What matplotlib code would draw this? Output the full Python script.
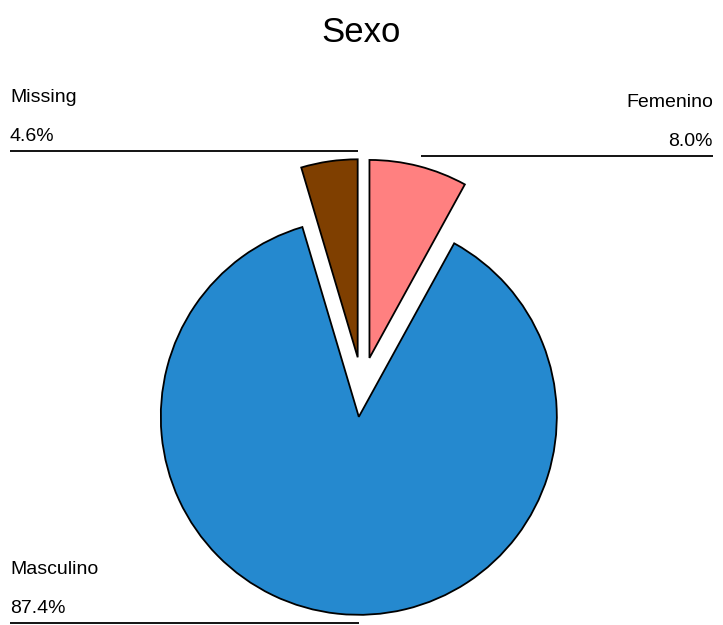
import numpy as np
import matplotlib.pyplot as plt

plt.rcParams['font.family'] = ['Liberation Sans', 'DejaVu Sans']

# data
categorias = ['Femenino', 'Masculino', 'Missing']
porcentajes = [8.0, 87.4, 4.6]
colores = ['#ff8080', '#2589cf', '#7f3f00']

W, H = 723, 625
fig = plt.figure(figsize=(W / 100, H / 100), dpi=100)
ax = fig.add_axes([0, 0, 1, 1])

centro = (362, 238)
radio = 198
wedges, _ = ax.pie(porcentajes, colors=colores, startangle=90, counterclock=False,
                   explode=[30] * 3, radius=radio, center=centro,
                   wedgeprops=dict(edgecolor='black', linewidth=1.3))
ax.set_xlim(0, W)
ax.set_ylim(0, H)
ax.set_aspect('equal')
ax.axis('off')

fig.text(0.5, 1 - 32 / H, 'Sexo', ha='center', va='center', fontsize=25)

# labels: (x of text, y of line in px from top, alignment, angle of rim point)
etiquetas = {
    'Missing': (10, 151, 'left', 90),
    'Femenino': (713, 156, 'right', 75),
    'Masculino': (10, 623, 'left', 270),
}
for w, cat, pct in zip(wedges, categorias, porcentajes):
    tx, ly, ha, ang = etiquetas[cat]
    cx, cy = w.center
    rx = cx + w.r * np.cos(np.radians(ang))
    yl = H - ly
    ax.plot([tx, rx], [yl, yl], color='black', lw=1.3, solid_capstyle='butt')
    ax.text(tx, yl + 10, f'{pct:.1f}%', ha=ha, va='baseline', fontsize=14)
    ax.text(tx, yl + 49, cat, ha=ha, va='baseline', fontsize=14)

fig.savefig('out.png', dpi=100)
